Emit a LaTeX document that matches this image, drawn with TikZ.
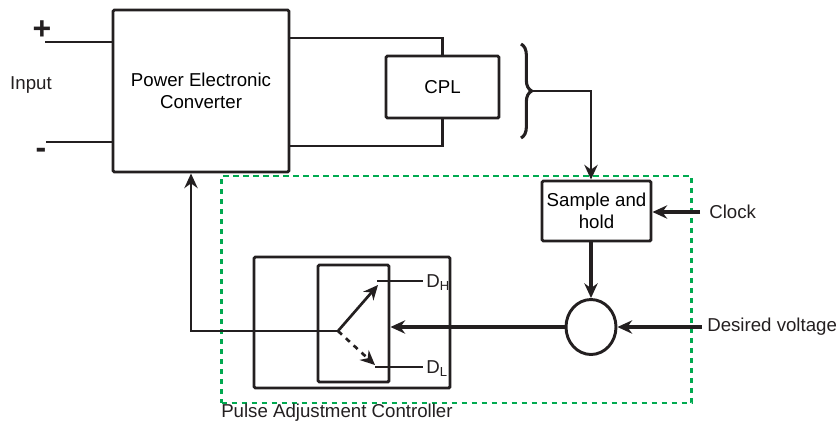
\documentclass[tikz,border=0pt]{standalone}
\usepackage{fontspec}
\setmainfont{Liberation Sans}
\usepackage{tikz}
\usetikzlibrary{arrows.meta, positioning, calc, shapes.geometric, decorations.pathreplacing}
\definecolor{boxline}{RGB}{35, 31, 32}
\definecolor{ctrlgreen}{RGB}{0, 170, 80}

\begin{document}
\begin{tikzpicture}[
  x=0.75pt, y=-0.75pt,
  block/.style={draw=boxline, line width=2.2pt, rounded corners=1pt,
                align=center, inner sep=0pt, font=\fontsize{14}{16.5}\selectfont},
  wire/.style={draw=boxline, line width=1.6pt},
  sig/.style={draw=boxline, line width=2.7pt,
              -{Stealth[length=11pt, width=10pt]}},
  lbl/.style={font=\fontsize{14}{16.5}\selectfont, inner sep=0pt, text=boxline},
  >=Stealth
]
  \useasboundingbox (0,0) rectangle (839,429);

  % ── Nodes ──────────────────────────────────────────────────────────────────
  \node[block, minimum width=132pt, minimum height=121.5pt] (pec) at (201,91)
    {Power Electronic\\Converter};
  \node[block, minimum width=84.75pt, minimum height=46.5pt] (cpl) at (442.5,87)
    {CPL};
  \node[block, minimum width=81.75pt, minimum height=45pt] (sh) at (596.5,211)
    {Sample and\\hold};
  \node[draw=boxline, line width=2.2pt, ellipse, minimum width=37.5pt,
        minimum height=41.25pt, inner sep=0pt] (sum) at (591,327) {};
  \node[block, minimum width=147pt, minimum height=98.25pt] (pac) at (352,322.5) {};
  \node[block, minimum width=53.25pt, minimum height=87.75pt] (sel) at (353.5,323.5) {};

  % ── Controller frame ───────────────────────────────────────────────────────
  \node[draw=ctrlgreen, line width=1.7pt, dash pattern=on 4pt off 3.5pt,
        minimum width=352.5pt, minimum height=170.25pt] (ctrl) at (456.5,289.5) {};
  \node[lbl, anchor=west] (ctrllbl) at (221,413) {Pulse Adjustment Controller};

  % ── Input side ─────────────────────────────────────────────────────────────
  \coordinate (inp) at (45,42);
  \coordinate (inn) at (46,142);
  \draw[wire] (inp) -- (inp -| pec.west);
  \draw[wire] (inn) -- (inn -| pec.west);
  \node[font=\fontsize{24}{24}\selectfont\bfseries, text=boxline] (plus) at (42,30) {+};
  \node[font=\fontsize{24}{24}\selectfont\bfseries, text=boxline] (minus) at (41,153) {-};
  \node[lbl] (inlbl) at (31,85) {Input};

  % ── Converter to CPL ───────────────────────────────────────────────────────
  \draw[wire] (pec.east |- 0,38) -| (cpl.north);
  \draw[wire] (pec.east |- 0,146) -| (cpl.south);

  % ── Brace and measurement ──────────────────────────────────────────────────
  \draw[boxline, line width=2.3pt,
        decorate, decoration={brace, amplitude=8pt}] (521,44) -- (521,138);
  \coordinate (bt) at (531,91);
  \draw[sig, line width=2.2pt] (bt) -| (sh.north -| 591,0);
  \draw[sig] (sh.south -| sum.north) -- (sum.north);
  \node[lbl, anchor=west] (clk) at (709,212) {Clock};
  \draw[sig] (700,212) -- (sh.east |- 0,212);
  \node[lbl, anchor=west] (vref) at (707,327) {Desired voltage};
  \draw[sig] (vref.west) ++(-4pt,0) -- (sum.east);
  \draw[sig] (sum.west) -- (sel.east |- sum.west);

  % ── Switch ─────────────────────────────────────────────────────────────────
  \coordinate (sw) at (338,331);
  \coordinate (dh) at (378,285);
  \coordinate (dl) at (375,365);
  \draw[boxline, line width=2pt, -{Stealth[length=11pt, width=10pt]}] (sw) -- (dh);
  \draw[boxline, line width=2pt, dash pattern=on 4pt off 4pt,
        -{Stealth[length=11pt, width=10pt]}] (sw) -- (dl);
  \draw[wire] (377,281) -- (423,281);
  \draw[wire] (375,367) -- (423,367);
  \node[lbl, anchor=west] (dhlbl) at (426,283) {D\textsubscript{H}};
  \node[lbl, anchor=west] (dllbl) at (426,369) {D\textsubscript{L}};

  % ── Feedback to converter ──────────────────────────────────────────────────
  \coordinate (fb) at (191,331);
  \draw[wire, -{Stealth[length=11pt, width=10pt]}] (sw) -- (fb) -- (fb |- pec.south);
\end{tikzpicture}
\end{document}
